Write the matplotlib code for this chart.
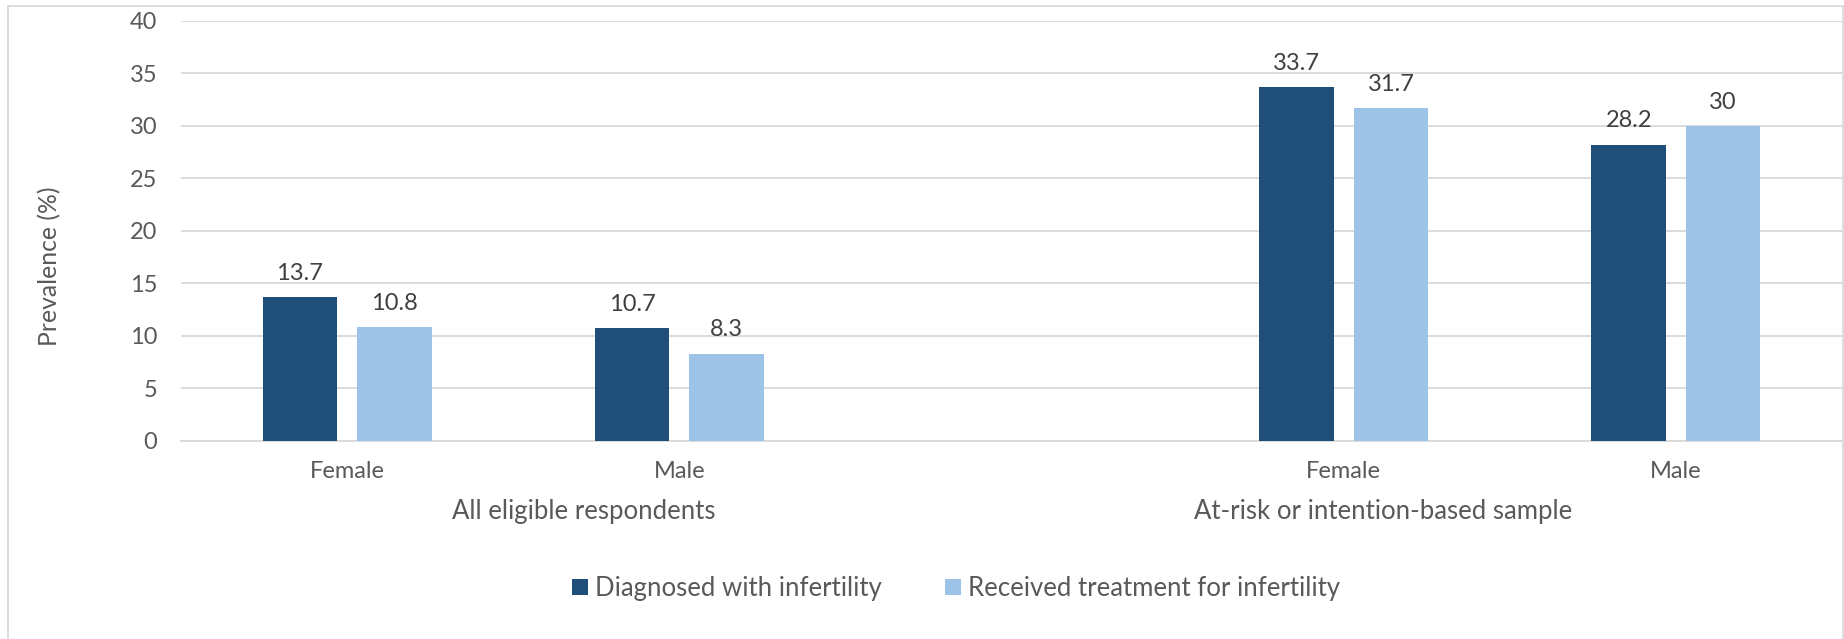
import numpy as np
import matplotlib
matplotlib.use("Agg")
import matplotlib.pyplot as plt
from matplotlib.patches import Rectangle, Patch

# ---- data ----
categories = ["Female", "Male", "", "Female", "Male"]
diagnosed = [13.7, 10.7, np.nan, 33.7, 28.2]
treated = [10.8, 8.3, np.nan, 31.7, 30.0]
group_labels = ["All eligible respondents", "At-risk or intention-based sample"]
series_names = ["Diagnosed with infertility", "Received treatment for infertility"]
yticks = [0, 5, 10, 15, 20, 25, 30, 35, 40]

# ---- style ----
W, H = 1844, 639
DPI = 100
FONT = "Lato"
DARK = "#1F4E79"
LIGHT = "#9DC3E6"
GRAY_TXT = "#595959"
LBL_TXT = "#404040"
GRID = "#D9D9D9"
FS = 17
FS_BIG = 18.5

plt.rcParams["font.family"] = [FONT, "DejaVu Sans"]

fig = plt.figure(figsize=(W / DPI, H / DPI), dpi=DPI)
ax_left, ax_right = 181 / W, 1842 / W
ax_top, ax_bot = 20.7, 440.7
ax = fig.add_axes([ax_left, 1 - ax_bot / H, ax_right - ax_left, (ax_bot - ax_top) / H])

x = np.arange(len(categories))
bw = 0.2245
off = 0.142
b1 = ax.bar(x - off, diagnosed, width=bw, color=DARK, zorder=3)
b2 = ax.bar(x + off, treated, width=bw, color=LIGHT, zorder=3)

for bars, vals in ((b1, diagnosed), (b2, treated)):
    for rect, v in zip(bars, vals):
        if np.isnan(v):
            continue
        ax.annotate(f"{v:g}", (rect.get_x() + rect.get_width() / 2, v),
                    xytext=(0, 17), textcoords="offset points",
                    ha="center", va="center", fontsize=FS, color=LBL_TXT)

ax.set_xlim(-0.5, len(categories) - 0.5)
ax.set_ylim(0, 40)
ax.set_yticks(yticks)
ax.yaxis.grid(True, color=GRID, linewidth=1.3, zorder=0)
ax.set_axisbelow(True)
for s in ["top", "right", "left"]:
    ax.spines[s].set_visible(False)
ax.spines["bottom"].set_color(GRID)
ax.spines["bottom"].set_linewidth(1.3)
ax.tick_params(axis="y", length=0, pad=17, labelsize=FS, labelcolor=GRAY_TXT)

tick_pos = [i for i, c in enumerate(categories) if c]
ax.set_xticks(tick_pos, [categories[i] for i in tick_pos])
ax.tick_params(axis="x", length=0, pad=22.5, labelsize=FS, labelcolor=GRAY_TXT)
plt.setp(ax.get_xticklabels(), va="center")

trans = matplotlib.transforms.blended_transform_factory(ax.transData, ax.transAxes)
group_x = [0.711, 3.119]
for gx, gl in zip(group_x, group_labels):
    ax.text(gx, -(511.5 - ax_bot) / (ax_bot - ax_top), gl, transform=trans,
            ha="center", va="center", fontsize=FS_BIG, color=GRAY_TXT)

fig.text(50 / W, 1 - 266 / H, "Prevalence (%)", rotation=90, ha="center", va="center",
         fontsize=17.8, color=GRAY_TXT)

handles = [Patch(facecolor=DARK), Patch(facecolor=LIGHT)]
fig.legend(handles, series_names, loc="center left", bbox_to_anchor=(572 / W, 1 - 588.7 / H),
           ncol=2, frameon=False, fontsize=FS_BIG, borderpad=0, borderaxespad=0,
           handlelength=0.62, handleheight=0.62, handletextpad=0.27, columnspacing=2.46,
           labelcolor=GRAY_TXT)

fig.add_artist(Rectangle((8 / W, -0.1), (1843 - 8) / W, (H - 6) / H + 0.1,
                         transform=fig.transFigure, fill=False, ec=GRID, lw=1.3))

fig.savefig("out.png", dpi=DPI)
